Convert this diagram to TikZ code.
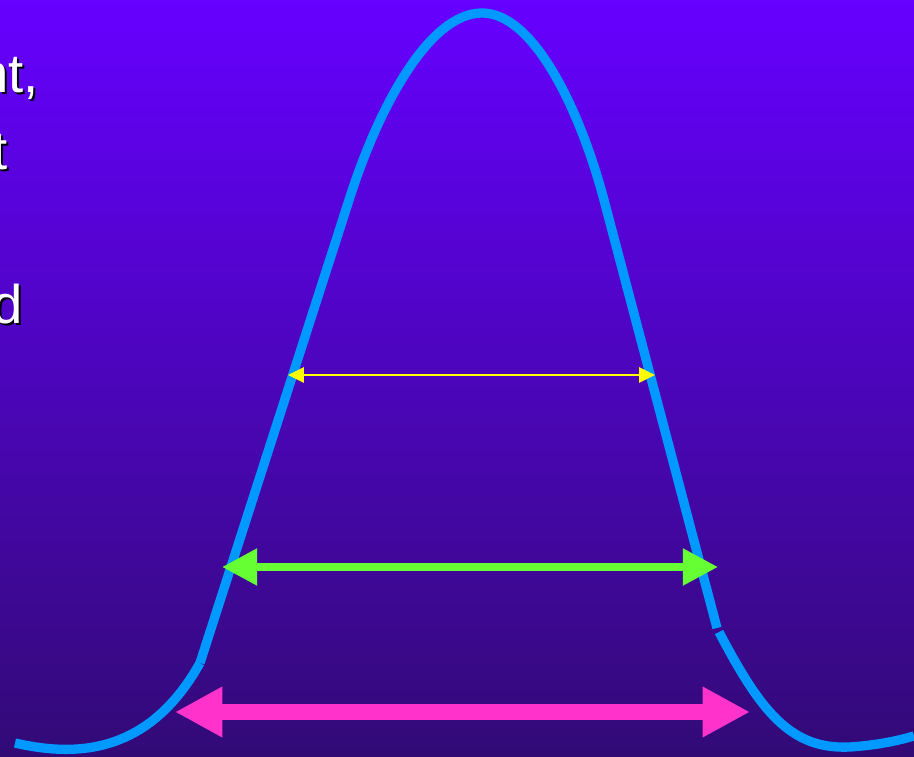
\documentclass[tikz,border=0pt]{standalone}
\usepackage{fontspec}
\setmainfont{Liberation Sans}
\usetikzlibrary{arrows.meta,positioning}
\definecolor{BgTop}{RGB}{102,0,255}
\definecolor{BgBottom}{RGB}{50,10,118}
\definecolor{CurveBlue}{RGB}{0,153,255}
\definecolor{ArrYellow}{RGB}{255,255,0}
\definecolor{ArrGreen}{RGB}{102,255,51}
\definecolor{ArrMagenta}{RGB}{255,51,204}

\begin{document}
\begin{tikzpicture}[
    x=0.02cm, y=-0.02cm,
    curve/.style={draw=CurveBlue, line width=5.3pt},
    txt/.style={anchor=base east, inner sep=0pt, text=white,
      font=\fontsize{31}{37}\selectfont},
    shadowtxt/.style={txt, text=black},
    yarr/.style={{Triangle[length=9pt,width=8.5pt]}-{Triangle[length=9pt,width=8.5pt]},
      draw=ArrYellow, line width=1.7pt},
    garr/.style={{Triangle[length=20pt,width=20pt]}-{Triangle[length=20pt,width=20pt]},
      draw=ArrGreen, line width=4.5pt},
    marr/.style={{Triangle[length=27pt,width=27pt]}-{Triangle[length=27pt,width=27pt]},
      draw=ArrMagenta, line width=9pt}
  ]

    \useasboundingbox (0,0) rectangle (914,757);
    \clip (0,0) rectangle (914,757);
    \fill[top color=BgTop, bottom color=BgBottom] (0,0) rectangle (914,757);

    \foreach \t/\px/\py [count=\i] in {{nt,}/39/93, t/8/170, d/23/323} {
      \node[shadowtxt] (s\i) at (\px+2,\py+2) {\t};
      \node[txt] (l\i) at (\px,\py) {\t};
    }

    \coordinate (tl) at (15,743);
    \coordinate (kl) at (200,663);
    \coordinate (top) at (482,13);
    \coordinate (kr) at (717,628);
    \coordinate (tr) at (914,736);

    \draw[curve] (tl) .. controls (80,758) and (150,752) .. (kl);
    \draw[curve] (kl) -- (350,197) .. controls (380,104) and (430,13) .. (top)
      .. controls (534,13) and (580,110) .. (604,200) -- (kr);
    \draw[curve] (719,632) .. controls (760,710) and (790,750) .. (850,747)
      .. controls (880,745) and (900,740) .. (tr);

    \coordinate (yl) at (288,375);
    \coordinate (yr) at (655,375);
    \coordinate (gl) at (222,567);
    \coordinate (gr) at (718,567);
    \coordinate (ml) at (175,712);
    \coordinate (mr) at (750,712);

    \draw[yarr] (yl) -- (yr);
    \draw[garr] (gl) -- (gr);
    \draw[marr] (ml) -- (mr);

\end{tikzpicture}
\end{document}
